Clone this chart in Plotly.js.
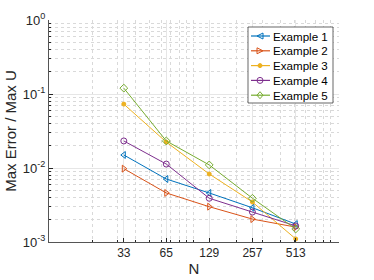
<!DOCTYPE html>
<html><head><meta charset="utf-8">
<script src="https://cdn.plot.ly/plotly-3.0.1.min.js"></script>
<style>html,body{margin:0;padding:0;background:#fff}#c{width:374px;height:280px}</style>
</head><body><div id="c"></div>
<script>
const N = [33, 65, 129, 257, 513];
const names = ["Example 1", "Example 2", "Example 3", "Example 4", "Example 5"];
const ex1 = [0.0150, 0.0071, 0.0046, 0.0029, 0.00175];
const ex2 = [0.0098, 0.0046, 0.0030, 0.00204, 0.00159];
const ex3 = [0.073, 0.0224, 0.0083, 0.00347, 0.0011];
const ex4 = [0.0232, 0.0113, 0.0039, 0.00254, 0.00165];
const ex5 = [0.120, 0.0232, 0.0110, 0.0039, 0.0015];
const yTickVals = [0.001, 0.01, 0.1, 1];
const yTickText = ["10<sup>-3</sup>", "10<sup>-2</sup>", "10<sup>-1</sup>", "10<sup>0</sup>"];
const xMinor = [20,30,40,50,60,70,80,90,100,200,300,400,500,600,700,800,900];
const yMinor = [0.002,0.003,0.004,0.005,0.006,0.007,0.008,0.009,0.02,0.03,0.04,0.05,0.06,0.07,0.08,0.09,0.2,0.3,0.4,0.5,0.6,0.7,0.8,0.9];

const series = [ex1, ex2, ex3, ex4, ex5];
const colors = ["#0072BD", "#D95319", "#EDB120", "#7E2F8E", "#77AC30"];
const symbols = ["triangle-left-open", "triangle-right-open", "circle", "circle-open", "diamond-open"];
const msize = [6, 6, 4, 6, 6];
const FONT = "Liberation Sans, Arial, sans-serif";

// plot area in pixels
const W = 374, H = 280, L = 49, R = 35, T = 20, B = 38;
const pw = W - L - R, ph = H - T - B;
const px = x => (x - L) / pw;
const py = y => (H - B - y) / ph;

const data = series.map((s, i) => ({
  x: N, y: s, name: names[i], type: "scatter", mode: "lines+markers",
  showlegend: false,
  line: {color: colors[i], width: 1},
  marker: {symbol: symbols[i], size: msize[i], color: colors[i], line: {color: colors[i], width: 1}}
}));

// compact legend like the reference (box, line samples, glyphs, labels)
const legRows = names.map((n, i) => 36 + i * 14.8);
const legMarkX = px(260);
const glyphPaths = [
  "M-3,0 L3,3 L3,-3 Z",
  "M3,0 L-3,3 L-3,-3 Z",
  null,
  null,
  "M0,3.5 L3,0 L0,-3.5 L-3,0 Z"
];
const shapes = [{
  type: "rect", xref: "paper", yref: "paper", layer: "above",
  x0: px(248), x1: px(333), y0: py(103), y1: py(27),
  fillcolor: "#fff", line: {color: "#262626", width: 0.7}
}];
const annotations = [];
names.forEach((n, i) => {
  const yy = py(legRows[i]);
  shapes.push({type: "line", xref: "paper", yref: "paper", layer: "above",
    x0: px(251), x1: px(270), y0: yy, y1: yy,
    line: {color: colors[i], width: 1.2}});
  const g = {xref: "paper", yref: "paper", layer: "above",
    xsizemode: "pixel", ysizemode: "pixel", xanchor: legMarkX, yanchor: yy,
    line: {color: colors[i], width: 1}};
  if (glyphPaths[i]) {
    shapes.push(Object.assign({type: "path", path: glyphPaths[i], fillcolor: "rgba(255,255,255,0)"}, g));
  } else {
    const r = msize[i] / 2;
    shapes.push(Object.assign({type: "circle", x0: -r, x1: r, y0: -r, y1: r,
      fillcolor: symbols[i] === "circle" ? colors[i] : "rgba(255,255,255,0)"}, g));
  }
  annotations.push({xref: "paper", yref: "paper", x: px(271), y: yy,
    xanchor: "left", yanchor: "middle", showarrow: false, text: n,
    font: {family: FONT, size: 11.6, color: "#000"}});
});

const axisCommon = {
  showline: true, linecolor: "#555", linewidth: 1, mirror: false,
  ticks: "inside", ticklen: 4, tickcolor: "#262626",
  showgrid: true, gridcolor: "#e6e6e6", gridwidth: 1,
  zeroline: false, tickfont: {family: FONT, size: 12, color: "#262626"}
};

const layout = {
  width: W, height: H,
  margin: {l: L, r: R, t: T, b: B},
  paper_bgcolor: "#fff", plot_bgcolor: "#fff",
  showlegend: false,
  shapes: shapes, annotations: annotations,
  xaxis: Object.assign({}, axisCommon, {
    type: "log", range: [1, 3.01],
    tickvals: N, ticktext: N.map(String),
    minor: {tickvals: xMinor, showgrid: true, gridcolor: "#d9d9d9", griddash: "dot", ticks: "inside", ticklen: 2, tickcolor: "#262626"},
    title: {text: "N", font: {family: FONT, size: 15, color: "#262626"}, standoff: 0}
  }),
  yaxis: Object.assign({}, axisCommon, {
    type: "log", range: [-3, 0],
    tickvals: yTickVals, ticktext: yTickText,
    tickfont: {family: FONT, size: 13, color: "#262626"},
    minor: {tickvals: yMinor, showgrid: true, gridcolor: "#d9d9d9", griddash: "dot", ticks: "inside", ticklen: 2, tickcolor: "#262626"},
    title: {text: "Max Error / Max U", font: {family: FONT, size: 15, color: "#262626"}, standoff: 2}
  })
};

Plotly.newPlot("c", data, layout, {displayModeBar: false, staticPlot: true});
</script></body></html>
